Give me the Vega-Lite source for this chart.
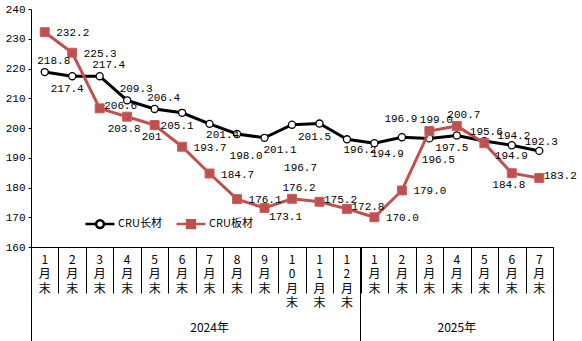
{
  "$schema": "https://vega.github.io/schema/vega-lite/v6.json",
  "width": 522,
  "height": 238,
  "autosize": {"type": "none"},
  "padding": {"left": 31, "top": 9, "right": 29, "bottom": 94},
  "background": "white",
  "data": {"values": [
    {"month": "2024-1", "series": "CRU长材", "value": 218.8, "label": "218.8"},
    {"month": "2024-2", "series": "CRU长材", "value": 217.4, "label": "217.4"},
    {"month": "2024-3", "series": "CRU长材", "value": 217.4, "label": "217.4"},
    {"month": "2024-4", "series": "CRU长材", "value": 209.3, "label": "209.3"},
    {"month": "2024-5", "series": "CRU长材", "value": 206.4, "label": "206.4"},
    {"month": "2024-6", "series": "CRU长材", "value": 205.1, "label": "205.1"},
    {"month": "2024-7", "series": "CRU长材", "value": 201.4, "label": "201.4"},
    {"month": "2024-8", "series": "CRU长材", "value": 198.0, "label": "198.0"},
    {"month": "2024-9", "series": "CRU长材", "value": 196.7, "label": "196.7"},
    {"month": "2024-10", "series": "CRU长材", "value": 201.1, "label": "201.1"},
    {"month": "2024-11", "series": "CRU长材", "value": 201.5, "label": "201.5"},
    {"month": "2024-12", "series": "CRU长材", "value": 196.2, "label": "196.2"},
    {"month": "2025-1", "series": "CRU长材", "value": 194.9, "label": "194.9"},
    {"month": "2025-2", "series": "CRU长材", "value": 196.9, "label": "196.9"},
    {"month": "2025-3", "series": "CRU长材", "value": 196.5, "label": "196.5"},
    {"month": "2025-4", "series": "CRU长材", "value": 197.5, "label": "197.5"},
    {"month": "2025-5", "series": "CRU长材", "value": 195.6, "label": "195.6"},
    {"month": "2025-6", "series": "CRU长材", "value": 194.2, "label": "194.2"},
    {"month": "2025-7", "series": "CRU长材", "value": 192.3, "label": "192.3"},
    {"month": "2024-1", "series": "CRU板材", "value": 232.2, "label": "232.2"},
    {"month": "2024-2", "series": "CRU板材", "value": 225.3, "label": "225.3"},
    {"month": "2024-3", "series": "CRU板材", "value": 206.6, "label": "206.6"},
    {"month": "2024-4", "series": "CRU板材", "value": 203.8, "label": "203.8"},
    {"month": "2024-5", "series": "CRU板材", "value": 201.0, "label": "201"},
    {"month": "2024-6", "series": "CRU板材", "value": 193.7, "label": "193.7"},
    {"month": "2024-7", "series": "CRU板材", "value": 184.7, "label": "184.7"},
    {"month": "2024-8", "series": "CRU板材", "value": 176.1, "label": "176.1"},
    {"month": "2024-9", "series": "CRU板材", "value": 173.1, "label": "173.1"},
    {"month": "2024-10", "series": "CRU板材", "value": 176.2, "label": "176.2"},
    {"month": "2024-11", "series": "CRU板材", "value": 175.2, "label": "175.2"},
    {"month": "2024-12", "series": "CRU板材", "value": 172.8, "label": "172.8"},
    {"month": "2025-1", "series": "CRU板材", "value": 170.0, "label": "170.0"},
    {"month": "2025-2", "series": "CRU板材", "value": 179.0, "label": "179.0"},
    {"month": "2025-3", "series": "CRU板材", "value": 199.0, "label": "199.0"},
    {"month": "2025-4", "series": "CRU板材", "value": 200.7, "label": "200.7"},
    {"month": "2025-5", "series": "CRU板材", "value": 194.9, "label": "194.9"},
    {"month": "2025-6", "series": "CRU板材", "value": 184.8, "label": "184.8"},
    {"month": "2025-7", "series": "CRU板材", "value": 183.2, "label": "183.2"}
  ]},
  "encoding": {
    "x": {"field": "month", "type": "ordinal", "scale": {"type": "band", "paddingInner": 0, "paddingOuter": 0, "domain": ["2024-1","2024-2","2024-3","2024-4","2024-5","2024-6","2024-7","2024-8","2024-9","2024-10","2024-11","2024-12","2025-1","2025-2","2025-3","2025-4","2025-5","2025-6","2025-7"]}, "axis": null},
    "y": {"field": "value", "type": "quantitative", "scale": {"domain": [160, 240], "nice": false, "zero": false},
      "axis": {"title": null, "grid": false, "values": [160,170,180,190,200,210,220,230,240], "domain": true, "domainColor": "black", "ticks": true, "tickSize": 3, "tickColor": "black", "labelFont": "Liberation Mono", "labelFontSize": 11, "labelColor": "black", "labelPadding": 3}},
    "text": {"field": "label"}
  },
  "layer": [
    {
      "transform": [{"filter": {"field": "series", "equal": "CRU长材"}}],
      "mark": {"type": "line", "color": "black", "strokeWidth": 3},
      "encoding": {
        "text": null,
        "x": {"field": "month", "type": "ordinal", "scale": {"type": "band", "paddingInner": 0, "paddingOuter": 0, "domain": ["2024-1","2024-2","2024-3","2024-4","2024-5","2024-6","2024-7","2024-8","2024-9","2024-10","2024-11","2024-12","2025-1","2025-2","2025-3","2025-4","2025-5","2025-6","2025-7"]},
          "axis": {"orient": "bottom", "title": null, "domain": true, "domainColor": "black", "ticks": true, "tickBand": "extent", "tickSize": 46, "tickColor": "black", "labels": false, "grid": false}}
      }
    },
    {
      "transform": [{"filter": {"field": "series", "equal": "CRU长材"}}],
      "mark": {"type": "point", "shape": "circle", "size": 50, "filled": true, "fill": "white", "stroke": "black", "strokeWidth": 1.3, "opacity": 1},
      "encoding": {
        "text": null,
        "x": {"field": "month", "type": "ordinal", "scale": {"type": "band", "paddingInner": 0, "paddingOuter": 0, "domain": ["2024-1","2024-2","2024-3","2024-4","2024-5","2024-6","2024-7","2024-8","2024-9","2024-10","2024-11","2024-12","2025-1","2025-2","2025-3","2025-4","2025-5","2025-6","2025-7"]},
          "axis": {"orient": "bottom", "offset": 0, "title": null, "domain": false, "ticks": false, "grid": false, "labelExpr": "split(split(datum.value, '-')[1] + '月末', '')", "labelAngle": 0, "labelBaseline": "top", "labelPadding": 7, "labelLineHeight": 14.5, "labelFont": "Noto Sans CJK SC", "labelFontSize": 12, "labelColor": "black", "labelOverlap": false, "labelBound": false}}
      }
    },
    {
      "transform": [{"filter": {"field": "series", "equal": "CRU板材"}}],
      "mark": {"type": "line", "color": "#C0504D", "strokeWidth": 3},
      "encoding": {
        "text": null,
        "x": {"field": "month", "type": "ordinal", "scale": {"type": "band", "paddingInner": 0, "paddingOuter": 0, "domain": ["2024-1","2024-2","2024-3","2024-4","2024-5","2024-6","2024-7","2024-8","2024-9","2024-10","2024-11","2024-12","2025-1","2025-2","2025-3","2025-4","2025-5","2025-6","2025-7"]},
          "axis": {"orient": "bottom", "offset": 0, "title": null, "values": ["2024-1", "2025-1"], "bandPosition": 0, "domain": false, "labels": false, "ticks": true, "tickSize": 94, "tickColor": "black", "grid": false}}
      }
    },
    {
      "transform": [{"filter": {"field": "series", "equal": "CRU板材"}}],
      "mark": {"type": "point", "shape": "square", "size": 80, "filled": true, "fill": "#C0504D", "stroke": "#C65F5C", "strokeWidth": 1, "opacity": 1},
      "encoding": {
        "text": null,
        "x": {"field": "month", "type": "ordinal", "scale": {"type": "band", "paddingInner": 0, "paddingOuter": 0, "domain": ["2024-1","2024-2","2024-3","2024-4","2024-5","2024-6","2024-7","2024-8","2024-9","2024-10","2024-11","2024-12","2025-1","2025-2","2025-3","2025-4","2025-5","2025-6","2025-7"]},
          "axis": {"orient": "bottom", "offset": 0, "title": null, "values": ["2025-7"], "bandPosition": 1, "domain": false, "labels": false, "ticks": true, "tickSize": 94, "tickColor": "black", "grid": false}}
      }
    },
    {
      "transform": [{"filter": {"and": [{"field": "series", "equal": "CRU长材"}, {"field": "month", "oneOf": ["2024-1","2024-3","2024-4","2024-5"]}]}}],
      "mark": {"type": "text", "dx": 9, "dy": -11, "font": "Liberation Mono", "fontSize": 11, "color": "black"},
      "encoding": {
        "x": {"field": "month", "type": "ordinal", "scale": {"type": "band", "paddingInner": 0, "paddingOuter": 0, "domain": ["2024-1","2024-2","2024-3","2024-4","2024-5","2024-6","2024-7","2024-8","2024-9","2024-10","2024-11","2024-12","2025-1","2025-2","2025-3","2025-4","2025-5","2025-6","2025-7"]},
          "axis": {"orient": "bottom", "offset": 0, "title": null, "values": ["2024-7"], "bandPosition": 0, "domain": false, "ticks": false, "grid": false, "labelExpr": "'2024年'", "labelAngle": 0, "labelBaseline": "top", "labelPadding": 75, "labelFont": "Noto Sans CJK SC", "labelFontSize": 12, "labelColor": "black", "labelOverlap": false, "labelBound": false}}
      }
    },
    {
      "transform": [{"filter": {"and": [{"field": "series", "equal": "CRU长材"}, {"field": "month", "oneOf": ["2025-2"]}]}}],
      "mark": {"type": "text", "dx": -1, "dy": -18, "font": "Liberation Mono", "fontSize": 11, "color": "black"},
      "encoding": {
        "x": {"field": "month", "type": "ordinal", "scale": {"type": "band", "paddingInner": 0, "paddingOuter": 0, "domain": ["2024-1","2024-2","2024-3","2024-4","2024-5","2024-6","2024-7","2024-8","2024-9","2024-10","2024-11","2024-12","2025-1","2025-2","2025-3","2025-4","2025-5","2025-6","2025-7"]},
          "axis": {"orient": "bottom", "offset": 0, "title": null, "values": ["2025-4"], "bandPosition": 0.5, "domain": false, "ticks": false, "grid": false, "labelExpr": "'2025年'", "labelAngle": 0, "labelBaseline": "top", "labelPadding": 75, "labelFont": "Noto Sans CJK SC", "labelFontSize": 12, "labelColor": "black", "labelOverlap": false, "labelBound": false}}
      }
    },
    {
      "transform": [{"filter": {"and": [{"field": "series", "equal": "CRU长材"}, {"field": "month", "oneOf": ["2025-5","2025-6","2025-7"]}]}}],
      "mark": {"type": "text", "dx": 2, "dy": -9, "font": "Liberation Mono", "fontSize": 11, "color": "black"}
    },
    {
      "transform": [{"filter": {"and": [{"field": "series", "equal": "CRU长材"}, {"field": "month", "oneOf": ["2024-2","2024-6","2024-11","2025-4"]}]}}],
      "mark": {"type": "text", "dx": -5, "dy": 13, "font": "Liberation Mono", "fontSize": 11, "color": "black"}
    },
    {
      "transform": [{"filter": {"and": [{"field": "series", "equal": "CRU长材"}, {"field": "month", "oneOf": ["2024-7","2024-12","2025-1"]}]}}],
      "mark": {"type": "text", "dx": 13, "dy": 11, "font": "Liberation Mono", "fontSize": 11, "color": "black"}
    },
    {
      "transform": [{"filter": {"and": [{"field": "series", "equal": "CRU长材"}, {"field": "month", "oneOf": ["2024-8","2025-3"]}]}}],
      "mark": {"type": "text", "dx": 9, "dy": 22, "font": "Liberation Mono", "fontSize": 11, "color": "black"}
    },
    {
      "transform": [{"filter": {"and": [{"field": "series", "equal": "CRU长材"}, {"field": "month", "oneOf": ["2024-10"]}]}}],
      "mark": {"type": "text", "dx": -12, "dy": 25, "font": "Liberation Mono", "fontSize": 11, "color": "black"}
    },
    {
      "transform": [{"filter": {"and": [{"field": "series", "equal": "CRU长材"}, {"field": "month", "oneOf": ["2024-9"]}]}}],
      "mark": {"type": "text", "dx": 36, "dy": 30, "font": "Liberation Mono", "fontSize": 11, "color": "black"}
    },
    {
      "transform": [{"filter": {"and": [{"field": "series", "equal": "CRU板材"}, {"field": "month", "oneOf": ["2024-1","2024-2","2024-6","2024-7","2024-8","2025-1","2025-2"]}]}}],
      "mark": {"type": "text", "dx": 28, "dy": 1, "font": "Liberation Mono", "fontSize": 11, "color": "black"}
    },
    {
      "transform": [{"filter": {"and": [{"field": "series", "equal": "CRU板材"}, {"field": "month", "oneOf": ["2024-3","2024-11","2024-12","2025-7"]}]}}],
      "mark": {"type": "text", "dx": 21, "dy": -2, "font": "Liberation Mono", "fontSize": 11, "color": "black"}
    },
    {
      "transform": [{"filter": {"and": [{"field": "series", "equal": "CRU板材"}, {"field": "month", "oneOf": ["2024-9"]}]}}],
      "mark": {"type": "text", "dx": 21, "dy": 9, "font": "Liberation Mono", "fontSize": 11, "color": "black"}
    },
    {
      "transform": [{"filter": {"and": [{"field": "series", "equal": "CRU板材"}, {"field": "month", "oneOf": ["2024-10","2025-3","2025-4"]}]}}],
      "mark": {"type": "text", "dx": 7, "dy": -11, "font": "Liberation Mono", "fontSize": 11, "color": "black"}
    },
    {
      "transform": [{"filter": {"and": [{"field": "series", "equal": "CRU板材"}, {"field": "month", "oneOf": ["2024-4","2024-5","2025-6"]}]}}],
      "mark": {"type": "text", "dx": -3, "dy": 12, "font": "Liberation Mono", "fontSize": 11, "color": "black"}
    },
    {
      "transform": [{"filter": {"and": [{"field": "series", "equal": "CRU板材"}, {"field": "month", "oneOf": ["2025-5"]}]}}],
      "mark": {"type": "text", "dx": 27, "dy": 13, "font": "Liberation Mono", "fontSize": 11, "color": "black"}
    },
    {
      "mark": {"type": "point", "opacity": 0, "filled": true},
      "encoding": {
        "text": null,
        "fill": {"field": "series", "type": "nominal", "scale": {"domain": ["CRU长材", "CRU板材"], "range": ["white", "#C0504D"]},
          "legend": {"title": null, "orient": "none", "legendX": 53, "legendY": 199, "direction": "horizontal", "symbolSize": 841, "symbolStrokeWidth": 2.5, "symbolOpacity": 1, "labelFont": "Noto Sans CJK SC", "labelFontSize": 11, "labelColor": "black", "labelOffset": 2, "columnPadding": 9}},
        "stroke": {"field": "series", "type": "nominal", "scale": {"domain": ["CRU长材", "CRU板材"], "range": ["black", "#C0504D"]},
          "legend": {"title": null, "orient": "none", "legendX": 53, "legendY": 199, "direction": "horizontal", "symbolSize": 841, "symbolStrokeWidth": 2.5, "symbolOpacity": 1, "labelFont": "Noto Sans CJK SC", "labelFontSize": 11, "labelColor": "black", "labelOffset": 2, "columnPadding": 9}},
        "shape": {"field": "series", "type": "nominal", "scale": {"domain": ["CRU长材", "CRU板材"], "range": ["M-1,0H-0.27M0.27,0H1M0.27,0A0.27,0.27 0 1 1 -0.27,0A0.27,0.27 0 1 1 0.27,0Z", "M-1,0H1M-0.27,-0.27H0.27V0.27H-0.27Z"]},
          "legend": {"title": null, "orient": "none", "legendX": 53, "legendY": 199, "direction": "horizontal", "symbolSize": 841, "symbolStrokeWidth": 2.5, "symbolOpacity": 1, "labelFont": "Noto Sans CJK SC", "labelFontSize": 11, "labelColor": "black", "labelOffset": 2, "columnPadding": 9}}
      }
    }
  ],
  "resolve": {"axis": {"x": "independent"}},
  "config": {"view": {"stroke": null}}
}
